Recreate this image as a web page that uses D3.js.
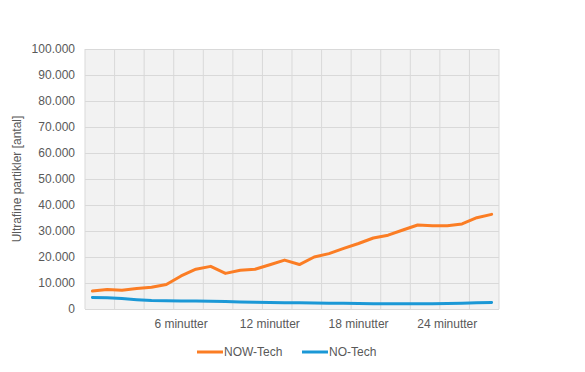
<!DOCTYPE html>
<html>
<head>
<meta charset="utf-8">
<script src="https://cdn.jsdelivr.net/npm/d3@7"></script>
<style>
  body { margin: 0; background: #fff; }
  text { font-family: "Liberation Sans", Arial, sans-serif; fill: #595959; }
</style>
</head>
<body>
<div id="chart"></div>
<script>
// minutes since start, one point per minute
const minutes = [0, 1, 2, 3, 4, 5, 6, 7, 8, 9, 10, 11, 12, 13, 14, 15, 16, 17, 18, 19, 20, 21, 22, 23, 24, 25, 26, 27];
const labelled = [6, 12, 18, 24];

const nowTech = [6900, 7500, 7200, 7900, 8400, 9400, 12700, 15300, 16400, 13700, 14900, 15300, 17000, 18800, 17100, 20000, 21300, 23300, 25200, 27300, 28400, 30400, 32300, 32000, 32000, 32700, 35100, 36400];
const noTech = [4400, 4300, 4000, 3600, 3300, 3200, 3100, 3100, 3000, 2900, 2700, 2600, 2500, 2400, 2400, 2300, 2200, 2200, 2100, 2000, 2000, 2000, 2000, 2000, 2100, 2200, 2400, 2500];

const series = [
  { name: "NOW-Tech", values: nowTech, color: "#fb7d24" },
  { name: "NO-Tech", values: noTech, color: "#1b98d6" }
];

const yTicks = [0, 10000, 20000, 30000, 40000, 50000, 60000, 70000, 80000, 90000, 100000];

const width = 585, height = 372;
const margin = { top: 49, right: 86, bottom: 63, left: 85 };

const svg = d3.select("#chart").append("svg")
    .attr("width", width)
    .attr("height", height);

const x = d3.scaleBand()
    .domain(minutes)
    .range([margin.left, width - margin.right]);

const y = d3.scaleLinear()
    .domain([0, 100000])
    .range([height - margin.bottom, margin.top]);

const fmt = d3.formatLocale({ decimal: ",", thousands: ".", grouping: [3], currency: ["", " kr."] }).format(",.0f");

// plot area
svg.append("rect")
    .attr("x", margin.left)
    .attr("y", margin.top)
    .attr("width", width - margin.left - margin.right)
    .attr("height", height - margin.top - margin.bottom)
    .attr("fill", "#f2f2f2");

// horizontal grid + y labels
const yAxis = svg.append("g")
    .attr("transform", `translate(${margin.left},0)`)
    .call(d3.axisLeft(y).tickValues(yTicks).tickFormat(fmt)
      .tickSize(-(width - margin.left - margin.right)).tickPadding(10));
yAxis.select(".domain").remove();
yAxis.selectAll("line").attr("stroke", "#d9d9d9");
yAxis.selectAll("text").style("font-size", "12px").attr("fill", "#595959");

// vertical grid every second minute
const vLines = minutes.filter((m, i) => i % 2 === 0).map(m => x(m)).concat([x.range()[1]]);
svg.append("g").selectAll("line")
    .data(vLines)
    .enter()
    .append("line")
    .attr("x1", d => d).attr("x2", d => d)
    .attr("y1", margin.top).attr("y2", height - margin.bottom)
    .attr("stroke", "#d9d9d9");

// x labels
const xAxis = svg.append("g")
    .attr("transform", `translate(0,${height - margin.bottom})`)
    .call(d3.axisBottom(x).tickValues(labelled).tickFormat(d => d + " minutter").tickSize(0).tickPadding(10));
xAxis.select(".domain").remove();
xAxis.selectAll("text").style("font-size", "12px").attr("fill", "#595959");

// y axis title
svg.append("text")
    .attr("transform", `translate(21,${(margin.top + height - margin.bottom) / 2}) rotate(-90)`)
    .attr("text-anchor", "middle")
    .style("font-size", "12px")
    .text("Ultrafine partikler [antal]");

// lines
const line = d3.line()
    .x((d, i) => x(minutes[i]) + x.bandwidth() / 2)
    .y(d => y(d));

svg.append("g").selectAll("path")
    .data(series)
    .enter()
    .append("path")
    .attr("d", d => line(d.values))
    .attr("fill", "none")
    .attr("stroke", d => d.color)
    .attr("stroke-width", 3)
    .attr("stroke-linejoin", "round")
    .attr("stroke-linecap", "round");

// legend
const legendX = [197, 302];
const legend = svg.append("g").selectAll("g")
    .data(series)
    .enter()
    .append("g")
    .attr("transform", (d, i) => `translate(${legendX[i]},352)`);
legend.append("line")
    .attr("x1", 0).attr("x2", 26)
    .attr("stroke", d => d.color)
    .attr("stroke-width", 3);
legend.append("text")
    .attr("x", 27)
    .attr("dy", "0.35em")
    .style("font-size", "12px")
    .text(d => d.name);
</script>
</body>
</html>
